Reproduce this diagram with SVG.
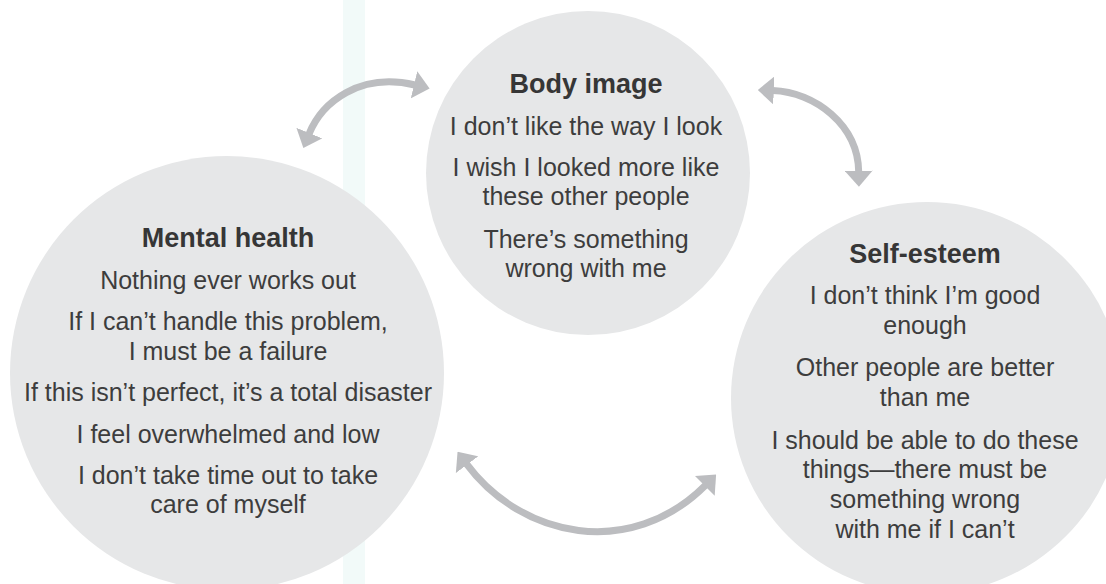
<svg xmlns="http://www.w3.org/2000/svg" width="1106" height="584" viewBox="0 0 1106 584">
  <style>
    .circle { fill: #E6E7E8; }
    .title { font-family: "Liberation Sans", Arial, sans-serif; font-size: 27px; font-weight: bold; fill: #363636; text-anchor: middle; }
    .txt { font-family: "Liberation Sans", Arial, sans-serif; font-size: 25px; fill: #3d3d3d; text-anchor: middle; }
    .conn { fill: none; stroke: #BCBDC0; stroke-width: 7; marker-start: url(#head); marker-end: url(#head); }
  </style>
  <defs>
    <marker id="head" viewBox="0 0 16 28" markerWidth="16" markerHeight="28" refX="1" refY="14" orient="auto-start-reverse" markerUnits="userSpaceOnUse">
      <path d="M0,0 L16,14 L0,28 Z" fill="#BCBDC0"/>
    </marker>
  </defs>
  <rect x="0" y="0" width="1106" height="584" fill="#FFFFFF"/>
  <rect id="strip" x="343" y="0" width="22" height="584" fill="#F2FAF9"/>

  <g id="node-body-image">
    <circle class="circle" cx="588" cy="173" r="162"/>
    <text class="title" x="586" y="93">Body image</text>
    <text class="txt" x="586" y="135">I don&#8217;t like the way I look</text>
    <text class="txt" x="586" y="176">I wish I looked more like</text>
    <text class="txt" x="586" y="204.5">these other people</text>
    <text class="txt" x="586" y="248">There&#8217;s something</text>
    <text class="txt" x="586" y="277">wrong with me</text>
  </g>

  <g id="node-mental-health">
    <circle class="circle" cx="227" cy="373" r="217"/>
    <text class="title" x="228" y="247">Mental health</text>
    <text class="txt" x="228" y="288.5">Nothing ever works out</text>
    <text class="txt" x="228" y="330">If I can&#8217;t handle this problem,</text>
    <text class="txt" x="228" y="359.5">I must be a failure</text>
    <text class="txt" x="228" y="401">If this isn&#8217;t perfect, it&#8217;s a total disaster</text>
    <text class="txt" x="228" y="443">I feel overwhelmed and low</text>
    <text class="txt" x="228" y="483.5">I don&#8217;t take time out to take</text>
    <text class="txt" x="228" y="512.5">care of myself</text>
  </g>

  <g id="node-self-esteem">
    <circle class="circle" cx="927" cy="398" r="196"/>
    <text class="title" x="925" y="263">Self-esteem</text>
    <text class="txt" x="925" y="304">I don&#8217;t think I&#8217;m good</text>
    <text class="txt" x="925" y="334">enough</text>
    <text class="txt" x="925" y="376">Other people are better</text>
    <text class="txt" x="925" y="406">than me</text>
    <text class="txt" x="925" y="448.5">I should be able to do these</text>
    <text class="txt" x="925" y="478">things&#8212;there must be</text>
    <text class="txt" x="925" y="507.5">something wrong</text>
    <text class="txt" x="925" y="538">with me if I can&#8217;t</text>
  </g>

  <g id="connectors">
    <path class="conn" d="M309,134 C322,102 360,72 415,85"/>
    <path class="conn" d="M772.8,90.5 C815,92 858,125 858.7,171.7"/>
    <path class="conn" d="M466.5,463.9 C521.5,537.9 630.5,560.2 705.5,485.2"/>
  </g>
</svg>
